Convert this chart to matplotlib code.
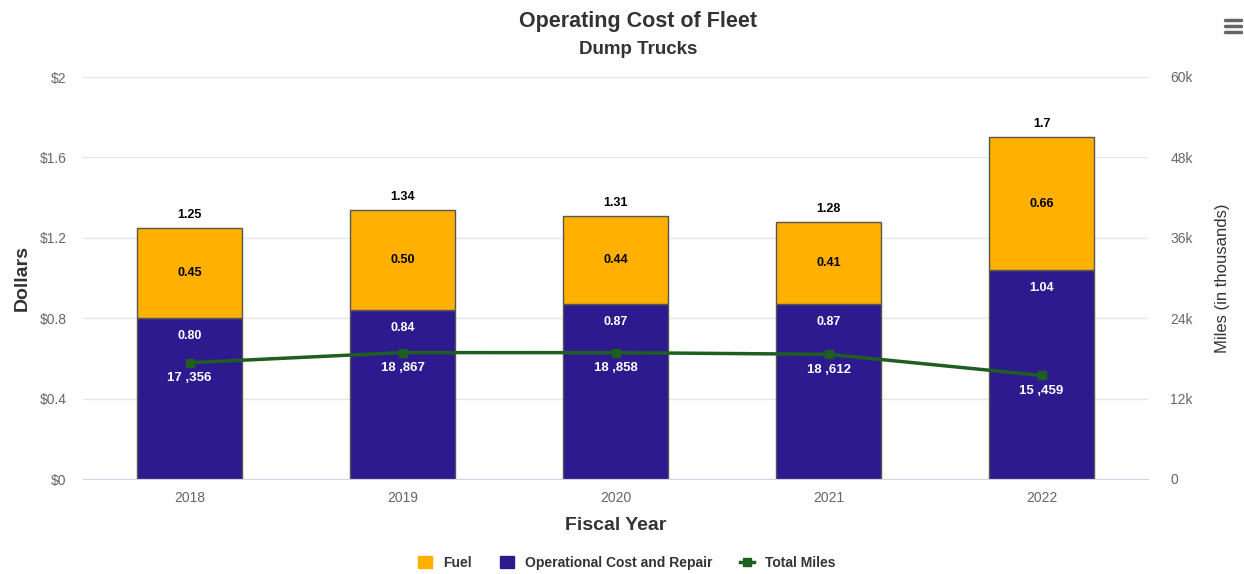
import matplotlib
matplotlib.use('Agg')
import matplotlib.pyplot as plt
from matplotlib.lines import Line2D
from matplotlib.patches import Patch
import numpy as np

plt.rcParams['font.family'] = ['Liberation Sans', 'DejaVu Sans']

### data
years = ['2018', '2019', '2020', '2021', '2022']
operational = [0.80, 0.84, 0.87, 0.87, 1.04]
fuel = [0.45, 0.50, 0.44, 0.41, 0.66]
totals = [1.25, 1.34, 1.31, 1.28, 1.70]
miles = [17356, 18867, 18858, 18612, 15459]

fuel_color = '#FFB000'
op_color = '#2E1A8F'
line_color = '#1E5E20'
grid_color = '#E6E6E6'
tick_color = '#666666'

fig = plt.figure(figsize=(12.44, 5.74), dpi=100)
ax = fig.add_axes([83/1244, 1 - 479/574, 1065/1244, 402/574])
ax2 = ax.twinx()

x = np.arange(len(years))
w = 0.49
ax.bar(x, operational, w, color=op_color, edgecolor='#555555', linewidth=1, zorder=2)
ax.bar(x, fuel, w, bottom=operational, color=fuel_color, edgecolor='#555555', linewidth=1, zorder=2)

for i in range(len(years)):
    ax.annotate(f'{totals[i]:g}', (x[i], totals[i]), xytext=(0, 5), textcoords='offset points',
                ha='center', va='bottom', fontsize=9, fontweight='bold', color='black')
    ax.text(x[i], operational[i] + fuel[i] / 2, f'{fuel[i]:.2f}', ha='center', va='center',
            fontsize=9, fontweight='bold', color='black', zorder=3)
    ax.annotate(f'{operational[i]:.2f}', (x[i], operational[i]), xytext=(0, -13),
                textcoords='offset points', ha='center', va='center',
                fontsize=9, fontweight='bold', color='white', zorder=3)

ax.set_xlim(-0.5, 4.5)
ax.set_ylim(0, 2)
ax.set_yticks([0, 0.4, 0.8, 1.2, 1.6, 2])
ax.set_yticklabels(['$0', '$0.4', '$0.8', '$1.2', '$1.6', '$2'])
ax.set_xticks(x)
ax.set_xticklabels(years)
ax.yaxis.grid(True, color=grid_color, linewidth=1)
ax.set_axisbelow(True)
for s in ['top', 'right', 'left']:
    ax.spines[s].set_visible(False)
ax.spines['bottom'].set_color('#CCD6EB')
ax.tick_params(axis='both', length=0, colors=tick_color, labelsize=10)
ax.tick_params(axis='x', pad=9)
ax.tick_params(axis='y', pad=12)
ax.set_xlabel('Fiscal Year', fontsize=14, fontweight='bold', color='#333333', labelpad=8)
ax.set_ylabel('Dollars', fontsize=14, fontweight='bold', color='#333333', labelpad=6)

ax2.plot(x, miles, color=line_color, linewidth=2.5, marker='s', markersize=6, zorder=4)
for i in range(len(years)):
    lbl = f'{miles[i] // 1000} ,{miles[i] % 1000:03d}'
    ax2.annotate(lbl, (x[i], miles[i]), xytext=(0, -11), textcoords='offset points',
                 ha='center', va='center', fontsize=9.5, fontweight='bold', color='white')
ax2.set_ylim(0, 60000)
ax2.set_yticks([0, 12000, 24000, 36000, 48000, 60000])
ax2.set_yticklabels(['0', '12k', '24k', '36k', '48k', '60k'])
ax2.tick_params(axis='y', length=0, colors=tick_color, labelsize=10, pad=16)
for s in ['top', 'right', 'left', 'bottom']:
    ax2.spines[s].set_visible(False)
ax2.set_ylabel('Miles (in thousands)', fontsize=12, color='#333333', labelpad=16)

fig.text(638/1244, 1 - 21/574, 'Operating Cost of Fleet', ha='center', va='center',
         fontsize=15.5, fontweight='bold', color='#333333')
fig.text(638/1244, 1 - 50/574, 'Dump Trucks', ha='center', va='center',
         fontsize=13.5, fontweight='bold', color='#333333')

# menu icon
for dy in [20, 26, 32]:
    fig.add_artist(Line2D([1225/1244, 1241/1244], [1 - dy/574, 1 - dy/574],
                          color='#666666', linewidth=2.5, solid_capstyle='round'))

handles = [Patch(facecolor=fuel_color, edgecolor=fuel_color),
           Patch(facecolor=op_color, edgecolor=op_color),
           Line2D([0], [0], color=line_color, linewidth=2.5, marker='s', markersize=6)]
fig.legend(handles, ['Fuel', 'Operational Cost and Repair', 'Total Miles'],
           loc='center', bbox_to_anchor=(627/1244, 1 - 563/574), ncol=3, frameon=False,
           handlelength=1.0, handleheight=1.0, columnspacing=2.0,
           labelcolor='#333333', prop={'weight': 'bold', 'size': 10})

fig.savefig('out.png', dpi=100)
